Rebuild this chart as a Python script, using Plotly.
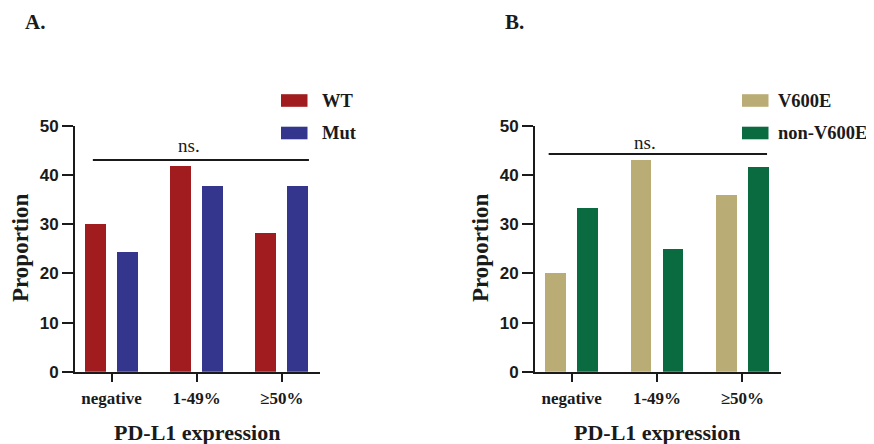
import plotly.graph_objects as go

# ---------------- data ----------------
categories = ["negative", "1-49%", "≥50%"]

panel_a_series = ["WT", "Mut"]
wt_values = [30.0, 41.8, 28.2]
mut_values = [24.3, 37.8, 37.8]

panel_b_series = ["V600E", "non-V600E"]
v600e_values = [20.0, 43.1, 36.0]
non_v600e_values = [33.3, 25.0, 41.7]

y_ticks = [0, 10, 20, 30, 40, 50]
sig_label = "ns."
sig_a_y = 43.1
sig_b_y = 44.3

colors_a = ["#A01C1F", "#33368C"]
colors_b = ["#B9AD75", "#0A6A40"]

W, H = 874, 444
PAGE_OFF = 8  # page body margin
SERIF = "Liberation Serif, Times New Roman, serif"
SANS = "Liberation Sans, Arial, sans-serif"


def px(x):
    return (x - PAGE_OFF) / W


def py(y):
    return 1 - (y - PAGE_OFF) / H


fig = go.Figure()

BAR_W = 0.245
OFFSETS = [-0.31, 0.065]

for vals, name, col, off in zip([wt_values, mut_values], panel_a_series, colors_a, OFFSETS):
    fig.add_trace(go.Bar(x=[0, 1, 2], y=vals, name=name, marker=dict(color=col, line=dict(width=0)),
                         width=BAR_W, offset=off, xaxis="x", yaxis="y", showlegend=False))
for vals, name, col, off in zip([v600e_values, non_v600e_values], panel_b_series, colors_b, OFFSETS):
    fig.add_trace(go.Bar(x=[0, 1, 2], y=vals, name=name, marker=dict(color=col, line=dict(width=0)),
                         width=BAR_W, offset=off, xaxis="x2", yaxis="y2", showlegend=False))

y_dom = [py(371.7), py(126)]
xa = dict(range=[-0.43, 2.45], tickmode="array", tickvals=[0, 1, 2], ticktext=categories,
          showline=True, linewidth=2, linecolor="#1a1a1a", ticks="outside", ticklen=8,
          tickwidth=2, tickcolor="#1a1a1a", showgrid=False, zeroline=False, automargin=False,
          tickfont=dict(family=SERIF, size=17, color="#1a1a1a", weight="bold"),
          ticklabelstandoff=2)
ya = dict(range=[0, 50], tickvals=y_ticks, showline=True, linewidth=2, linecolor="#1a1a1a",
          ticks="outside", ticklen=11, tickwidth=2, tickcolor="#1a1a1a", showgrid=False,
          zeroline=False, automargin=False,
          tickfont=dict(family=SANS, size=17, color="#1a1a1a", weight="bold"))

fig.update_layout(
    width=W, height=H, margin=dict(l=0, r=0, t=0, b=0, pad=0, autoexpand=False),
    paper_bgcolor="white", plot_bgcolor="white",
    xaxis=dict(xa, domain=[px(75), px(320)], anchor="y"),
    yaxis=dict(ya, domain=y_dom, anchor="x"),
    xaxis2=dict(xa, domain=[px(535), px(780.7)], anchor="y2"),
    yaxis2=dict(ya, domain=y_dom, anchor="x2"),
    bargap=0, barmode="overlay",
)

shapes = []
annotations = []

# significance lines
shapes.append(dict(type="line", xref="x", yref="y", x0=-0.22, x1=2.32, y0=sig_a_y, y1=sig_a_y,
                   line=dict(color="#1a1a1a", width=2)))
shapes.append(dict(type="line", xref="x2", yref="y2", x0=-0.27, x1=2.29, y0=sig_b_y, y1=sig_b_y,
                   line=dict(color="#1a1a1a", width=2)))
annotations.append(dict(text=sig_label, xref="paper", yref="paper", x=px(189), y=py(146),
                        showarrow=False, xanchor="center", yanchor="middle",
                        font=dict(family=SERIF, size=19, color="#1a1a1a")))
annotations.append(dict(text=sig_label, xref="paper", yref="paper", x=px(645), y=py(142),
                        showarrow=False, xanchor="center", yanchor="middle",
                        font=dict(family=SERIF, size=19, color="#1a1a1a")))

# panel labels
for txt, xc in [("A.", 35), ("B.", 515)]:
    annotations.append(dict(text=txt, xref="paper", yref="paper", x=px(xc), y=py(22),
                            showarrow=False, xanchor="center", yanchor="middle",
                            font=dict(family=SERIF, size=21, color="#1a1a1a", weight="bold")))

# axis titles
for xc in [20, 480]:
    annotations.append(dict(text="Proportion", xref="paper", yref="paper", x=px(xc), y=py(248),
                            showarrow=False, textangle=-90, xanchor="center", yanchor="middle",
                            font=dict(family=SERIF, size=23, color="#1a1a1a", weight="bold")))
for xc in [197, 657]:
    annotations.append(dict(text="PD-L1 expression", xref="paper", yref="paper", x=px(xc), y=py(432),
                            showarrow=False, xanchor="center", yanchor="middle",
                            font=dict(family=SERIF, size=22, color="#1a1a1a", weight="bold")))

# legends (manual)
legend_rows = [100.5, 133]
for names, cols, sx, tx in [(panel_a_series, colors_a, 281, 320), (panel_b_series, colors_b, 742, 776)]:
    for name, col, yc in zip(names, cols, legend_rows):
        shapes.append(dict(type="rect", xref="paper", yref="paper", x0=px(sx), x1=px(sx + 26.5),
                           y0=py(yc + 6.3), y1=py(yc - 6.3), fillcolor=col, line=dict(width=0)))
        annotations.append(dict(text=name, xref="paper", yref="paper", x=px(tx), y=py(yc),
                                showarrow=False, xanchor="left", yanchor="middle",
                                font=dict(family=SERIF, size=18.5, color="#1a1a1a", weight="bold")))

fig.update_layout(shapes=shapes, annotations=annotations)
fig.write_html("out.html")
